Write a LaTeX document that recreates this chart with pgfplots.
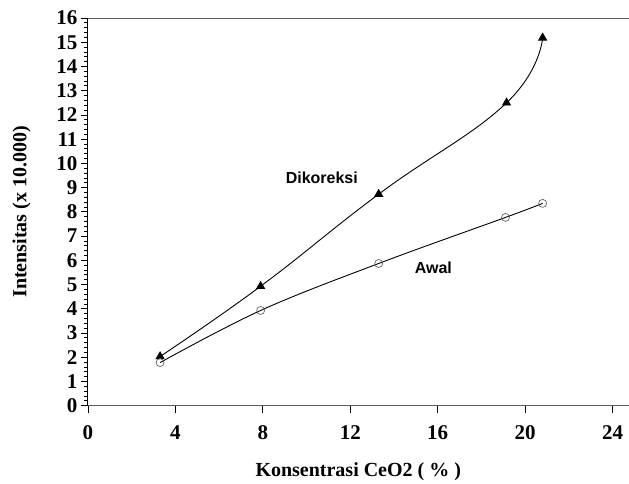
\documentclass[border=0pt]{standalone}
\usepackage{fontspec}
\setmainfont{Liberation Serif}
\newfontfamily\arial{Liberation Sans}
\usepackage{pgfplots}
\pgfplotsset{compat=1.18}

\begin{document}
\begin{tikzpicture}
\begin{axis}[
    scale only axis,
    width=541pt, height=388pt,
    xmin=0, xmax=24.73, ymin=0, ymax=16,
    axis x line=box, axis y line=left,
    x axis line style={-, gray!70!black, line width=0.9pt},
    y axis line style={-, line width=0.9pt},
    xtick={0,4,...,24}, ytick={0,1,...,16},
    xtick pos=bottom, ytick pos=left,
    minor y tick num=4,
    tick align=outside,
    major tick length=7pt, minor tick length=4pt,
    tick style={black, line width=0.8pt},
    /pgf/number format/assume math mode=true,
    tick label style={font=\fontsize{21}{23}\selectfont\bfseries},
    xticklabel style={yshift=-9pt},
    label style={font=\fontsize{20}{22}\selectfont\bfseries},
    xlabel={Konsentrasi CeO2 ( \% )},
    ylabel={Intensitas (x 10.000)},
    xlabel style={yshift=-16pt},
    ylabel style={yshift=19pt},
    clip=false,
]
\addplot[black, line width=0.9pt, smooth, tension=0.75,
    mark=triangle*, mark size=4.5pt, mark options={fill=black}]
coordinates {
    (3.30, 2.03)
    (7.90, 4.93)
    (13.30, 8.73)
    (19.15, 12.50)
    (20.80, 15.18)
};
\addplot[black, line width=0.9pt, smooth, tension=0.6,
    mark=o, mark size=4pt, mark options={gray!80!black, line width=0.7pt}]
coordinates {
    (3.30, 1.78)
    (7.90, 3.93)
    (13.30, 5.87)
    (19.10, 7.77)
    (20.80, 8.35)
};
\node[font=\arial\fontsize{16}{18}\selectfont\bfseries] at (axis cs:10.7,9.4) {Dikoreksi};
\node[font=\arial\fontsize{16}{18}\selectfont\bfseries] at (axis cs:15.8,5.7) {Awal};
% page margins as in the reference
\path (rel axis cs:0,1) -- ++(0,18pt);
\path (rel axis cs:0,0) -- ++(0,-76pt);
\path (rel axis cs:0,0) -- ++(-88pt,0);
\end{axis}
\end{tikzpicture}
\end{document}
